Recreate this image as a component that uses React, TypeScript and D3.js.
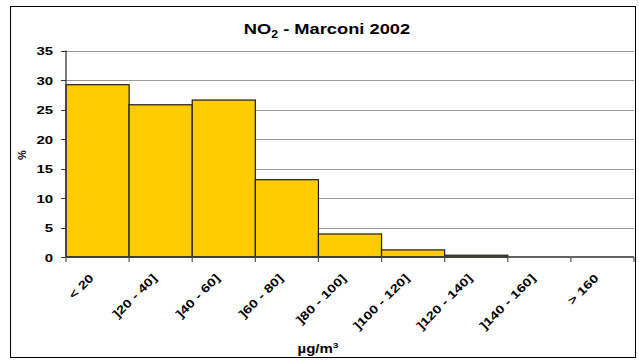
import React from "react";
import * as d3 from "d3";

const categories = ["< 20", "]20 - 40]", "]40 - 60]", "]60 - 80]", "]80 - 100]", "]100 - 120]", "]120 - 140]", "]140 - 160]", "> 160"];
const values = [29.2, 25.8, 26.6, 13.1, 3.9, 1.2, 0.3, 0, 0];
const yTicks = [0, 5, 10, 15, 20, 25, 30, 35];

const W = 639, H = 361;
const left = 66, right = 634, top = 50.5, bottom = 257;
const font = "Arial, 'Liberation Sans', sans-serif";

export default function App() {
  const x = d3.scaleBand<string>().domain(categories).range([left, right]).padding(0);
  const y = d3.scaleLinear().domain([0, 35]).range([bottom, top]);
  const bw = x.bandwidth();
  return (
    <svg width={W} height={H} style={{ position: "absolute", left: 0, top: 0 }} fontFamily={font}>
      <rect x={0} y={0} width={W} height={H} fill="#fff" />
      <rect x={10.5} y={6.5} width={625} height={351} fill="#fff" stroke="#000" strokeWidth={1} />
      <text transform="translate(327,33.5) scale(1.22,1)" textAnchor="middle" fontSize={15} fontWeight="bold">
        NO<tspan fontSize={10} dy={4}>2</tspan><tspan dy={-4}> - Marconi 2002</tspan>
      </text>
      {yTicks.map((t) => (
        <g key={t}>
          {t > 0 && <line x1={left} x2={right} y1={Math.round(y(t)) + 0.5} y2={Math.round(y(t)) + 0.5} stroke="#999" strokeWidth={1} />}
          <line x1={61} x2={left} y1={Math.round(y(t)) + 0.5} y2={Math.round(y(t)) + 0.5} stroke="#333" strokeWidth={1} />
          <text transform={`translate(53,${y(t) + 4.5}) scale(1.3,1)`} textAnchor="end" fontSize={11.5} fontWeight="bold">{t}</text>
        </g>
      ))}
      {categories.map((c, i) => (
        <rect key={c} x={x(c)!} y={y(values[i])} width={bw} height={bottom - y(values[i])} fill="#FFCC00" stroke="#1a1a1a" strokeWidth={1.2} />
      ))}
      <line x1={left} x2={left} y1={top} y2={bottom} stroke="#333" strokeWidth={1.3} />
      <line x1={left} x2={right} y1={bottom} y2={bottom} stroke="#333" strokeWidth={1.5} />
      {categories.map((c) => (
        <line key={"t" + c} x1={x(c)!} x2={x(c)!} y1={bottom} y2={bottom + 5} stroke="#555" strokeWidth={1.2} />
      ))}
      <line x1={right} x2={right} y1={bottom} y2={bottom + 5} stroke="#555" strokeWidth={1.2} />
      {categories.map((c) => {
        const cx = x(c)! + bw / 2 - 6;
        const cy = bottom + 19;
        return (
          <text key={"l" + c} transform={`translate(${cx},${cy}) rotate(-45) scale(1.3,1)`} textAnchor="end" dy="0.35em" fontSize={11.5} fontWeight="bold">{c}</text>
        );
      })}
      <text transform={`translate(26,155) rotate(-90)`} textAnchor="middle" fontSize={11} fontWeight="bold">%</text>
      <text transform="translate(318,353) scale(1.25,1)" textAnchor="middle" fontSize={12} fontWeight="bold">
        µg/m<tspan fontSize={8} dy={-5}>3</tspan>
      </text>
    </svg>
  );
}
